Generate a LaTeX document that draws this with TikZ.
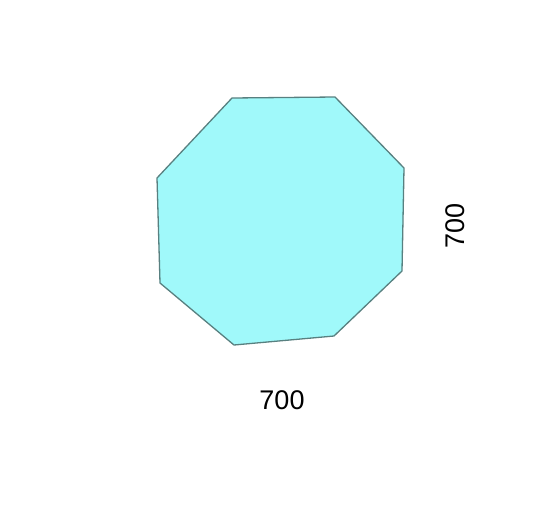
\documentclass[tikz,border=0pt]{standalone}
\usepackage{xcolor}
\usepackage{fontspec}
\setmainfont{Liberation Sans}
\usepackage{tikz}
\usetikzlibrary{calc}

\definecolor{glass}{RGB}{160,249,250}
\definecolor{rim}{RGB}{88,128,128}

\begin{document}
\begin{tikzpicture}[x=1pt,y=-1pt]
    \useasboundingbox (0, 0) rectangle (560, 504);

    % Draw the octagon
    \draw[rim, line width=1.3pt, fill=glass, line join=round]
      (232, 98) -- (335, 97) -- (404, 168) -- (402, 271)
      -- (334, 336) -- (234, 345) -- (160, 283) -- (157, 178) -- cycle;

    % Add labels
    \node (width) at (282, 400) {\fontsize{27}{27}\selectfont 700};
    \node[rotate=90] (height) at (455, 226) {\fontsize{27}{27}\selectfont 700};
  \end{tikzpicture}
\end{document}
